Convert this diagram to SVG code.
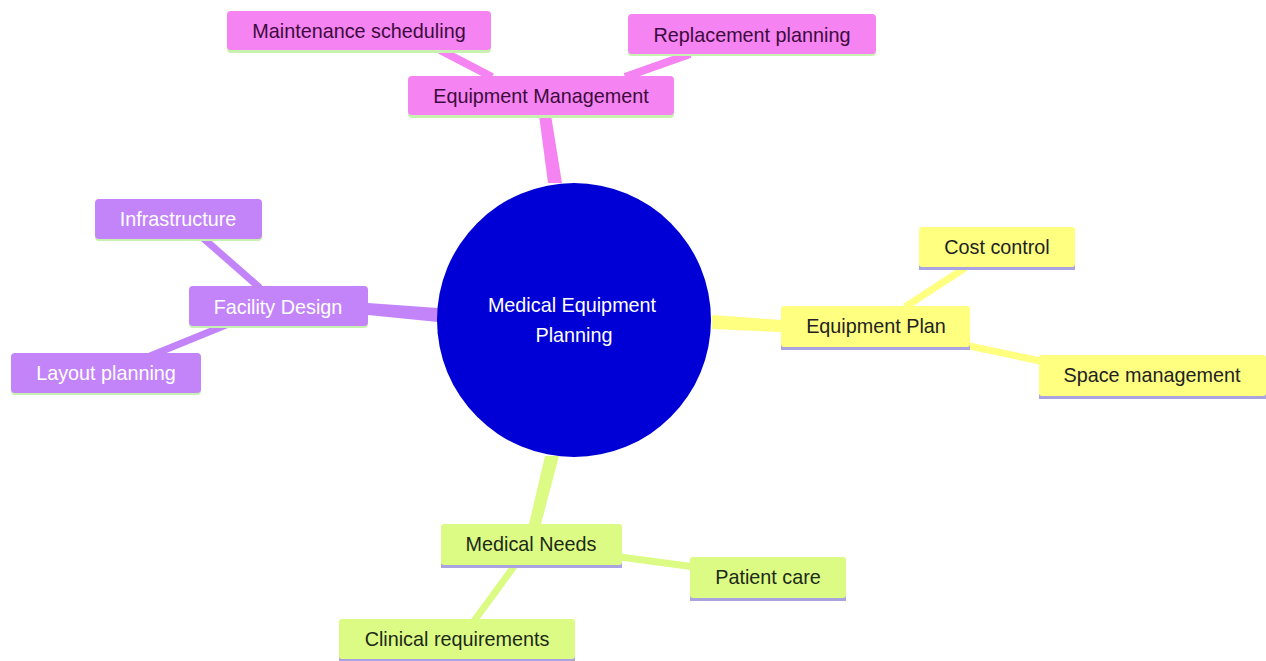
<svg xmlns="http://www.w3.org/2000/svg" width="1266" height="661" viewBox="0 0 1266 661">
<style>
text{font-family:"Liberation Sans",Arial,sans-serif;font-size:19.8px;text-anchor:middle;dominant-baseline:central}
.pk rect.b{fill:#f583f1}
.pk text{fill:#3d0b3d}
.pu rect.b{fill:#c384fa}
.pu text{fill:#ffffff}
.ye rect.b{fill:#ffff80}
.ye text{fill:#222222}
.gr rect.b{fill:#dcfb84}
.gr text{fill:#1c2a18}
.sg{fill:#c8f0b0}
.sl{fill:#a9a3e0}
</style>
<rect width="1266" height="661" fill="#ffffff"/>
<g id="connectors" fill="none" stroke-linecap="butt">
<polygon points="548,183 562,183 551,115 539,115" fill="#f583f1"/>
<line x1="440" y1="50" x2="492" y2="77" stroke="#f583f1" stroke-width="8"/>
<line x1="690" y1="54" x2="625" y2="77" stroke="#f583f1" stroke-width="8"/>
<polygon points="438,308 438,322 368,315 368,303" fill="#c384fa"/>
<line x1="203" y1="238" x2="260" y2="288" stroke="#c384fa" stroke-width="7"/>
<line x1="150" y1="356" x2="226" y2="325" stroke="#c384fa" stroke-width="7"/>
<polygon points="712,315 712,329 781,332 781,320" fill="#ffff80"/>
<line x1="965" y1="268" x2="905" y2="307" stroke="#ffff80" stroke-width="7"/>
<line x1="960" y1="344" x2="1045" y2="362" stroke="#ffff80" stroke-width="7"/>
<polygon points="545,456 559,456 541,524 529,524" fill="#dcfb84"/>
<line x1="620" y1="557" x2="695" y2="567" stroke="#dcfb84" stroke-width="7"/>
<line x1="515" y1="565" x2="474" y2="621" stroke="#dcfb84" stroke-width="7"/>
</g>
<g id="center">
<circle cx="574" cy="320" r="137" fill="#0000d6"/>
<text x="572" y="305" fill="#ffffff">Medical Equipment</text>
<text x="574" y="335" fill="#ffffff">Planning</text>
</g>
<g id="equipment-management" class="pk">
<rect class="sg" x="408" y="78" width="266" height="40" rx="4"/>
<rect class="b" x="408" y="76" width="266" height="39" rx="4"/>
<text x="541" y="96">Equipment Management</text>
</g>
<g id="maintenance-scheduling" class="pk">
<rect class="sg" x="227" y="13" width="264" height="40" rx="4"/>
<rect class="b" x="227" y="11" width="264" height="39" rx="4"/>
<text x="359" y="31">Maintenance scheduling</text>
</g>
<g id="replacement-planning" class="pk">
<rect class="sg" x="628" y="16" width="248" height="40" rx="4"/>
<rect class="b" x="628" y="14" width="248" height="40" rx="4"/>
<text x="752" y="35">Replacement planning</text>
</g>
<g id="facility-design" class="pu">
<rect class="sg" x="189" y="288" width="179" height="40" rx="4"/>
<rect class="b" x="189" y="286" width="179" height="40" rx="4"/>
<text x="278" y="307">Facility Design</text>
</g>
<g id="infrastructure" class="pu">
<rect class="sg" x="95" y="201" width="167" height="40" rx="4"/>
<rect class="b" x="95" y="199" width="167" height="40" rx="4"/>
<text x="178" y="219">Infrastructure</text>
</g>
<g id="layout-planning" class="pu">
<rect class="sg" x="11" y="355" width="190" height="40" rx="4"/>
<rect class="b" x="11" y="353" width="190" height="40" rx="4"/>
<text x="106" y="373">Layout planning</text>
</g>
<g id="equipment-plan" class="ye">
<rect class="sl" x="781" y="308" width="189" height="42"/>
<rect class="b" x="781" y="306" width="189" height="41" rx="3"/>
<text x="876" y="326">Equipment Plan</text>
</g>
<g id="cost-control" class="ye">
<rect class="sl" x="919" y="229" width="156" height="41"/>
<rect class="b" x="919" y="227" width="156" height="40" rx="3"/>
<text x="997" y="247">Cost control</text>
</g>
<g id="space-management" class="ye">
<rect class="sl" x="1039" y="357" width="227" height="42"/>
<rect class="b" x="1039" y="355" width="227" height="41" rx="3"/>
<text x="1152" y="375">Space management</text>
</g>
<g id="medical-needs" class="gr">
<rect class="sl" x="441" y="526" width="181" height="42"/>
<rect class="b" x="441" y="524" width="181" height="41" rx="3"/>
<text x="531" y="544">Medical Needs</text>
</g>
<g id="patient-care" class="gr">
<rect class="sl" x="690" y="559" width="156" height="42"/>
<rect class="b" x="690" y="557" width="156" height="41" rx="3"/>
<text x="768" y="577">Patient care</text>
</g>
<g id="clinical-requirements" class="gr">
<rect class="sl" x="339" y="621" width="236" height="40"/>
<rect class="b" x="339" y="619" width="236" height="40" rx="3"/>
<text x="457" y="639">Clinical requirements</text>
</g>
</svg>
